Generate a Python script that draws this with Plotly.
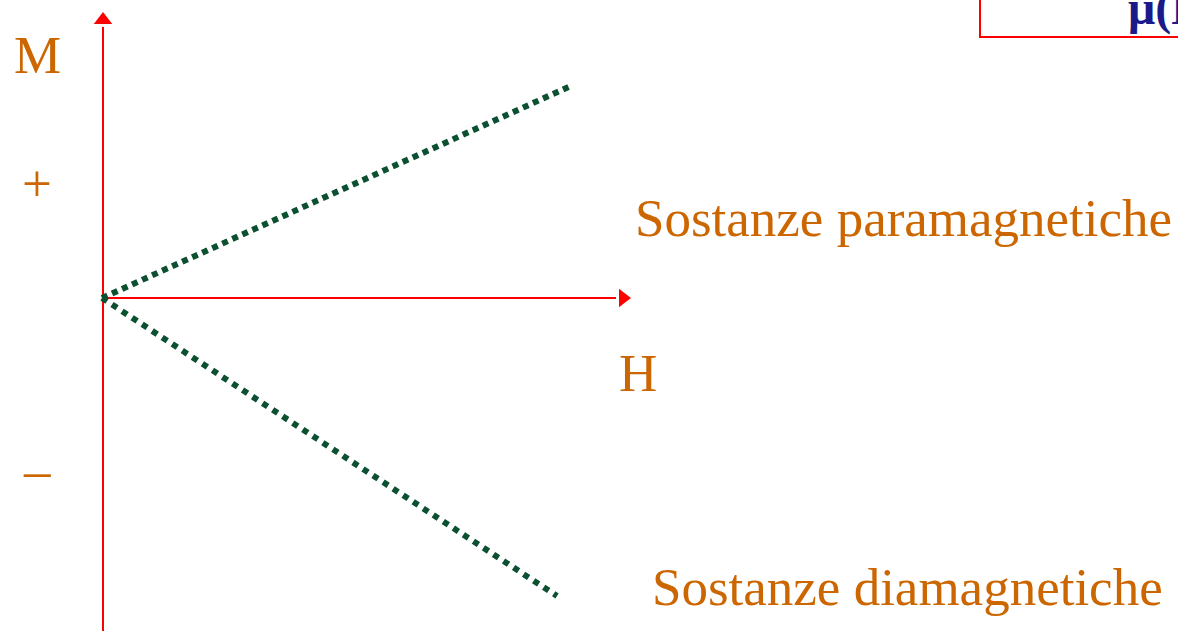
import plotly.graph_objects as go

# Data (H, M) in chart units; origin at the axes crossing
H_para = [0, 471]
M_para = [0, 213]
H_dia = [0, 455]
M_dia = [0, -298]

label_para = "Sostanze paramagnetiche"
label_dia = "Sostanze diamagnetiche"

ORANGE = "rgb(204,102,0)"
GREEN = "#0b5030"
RED = "#ff0000"
FONT = "Liberation Serif, Times New Roman, serif"

fig = go.Figure()

# axes lines (red)
fig.add_shape(type="line", x0=1, x1=1, y0=-340, y1=271, line=dict(color=RED, width=2), layer="below")
fig.add_shape(type="line", x0=0, x1=514, y0=0, y1=0, line=dict(color=RED, width=2), layer="below")
# arrowheads
fig.add_trace(go.Scatter(x=[1], y=[278], mode="markers",
                         marker=dict(symbol="triangle-up", size=16, color=RED, line=dict(width=0)),
                         hoverinfo="skip", showlegend=False))
fig.add_trace(go.Scatter(x=[521], y=[0], mode="markers",
                         marker=dict(symbol="triangle-right", size=16, color=RED, line=dict(width=0)),
                         hoverinfo="skip", showlegend=False))

# dotted series
fig.add_trace(go.Scatter(x=H_para, y=M_para, mode="lines",
                         line=dict(color=GREEN, width=6, dash="6px,5px"),
                         showlegend=False, hoverinfo="skip"))
fig.add_trace(go.Scatter(x=H_dia, y=M_dia, mode="lines",
                         line=dict(color=GREEN, width=6, dash="6px,6px"),
                         showlegend=False, hoverinfo="skip"))

# box at top right
fig.add_shape(type="rect", x0=878, x1=1100, y0=261, y1=320,
              line=dict(color=RED, width=2), fillcolor="rgba(0,0,0,0)")

def txt(x, y, s, size=53, color=ORANGE, xanchor="center", bold=False):
    fig.add_annotation(x=x, y=y, text=("<b>%s</b>" % s) if bold else s, showarrow=False,
                       xanchor=xanchor, yanchor="middle",
                       font=dict(family=FONT, size=size, color=color))

txt(-65, 243, "M")
txt(-65, 115, "+")
txt(-65, -172, "–")
txt(536, -75, "H")
txt(531, 80, label_para, xanchor="left")
txt(548, -289, label_dia, xanchor="left")
txt(1024, 290, "μ(H)", size=48, color="#1a1a8a", xanchor="left", bold=True)

fig.update_layout(
    width=1178, height=631,
    margin=dict(l=0, r=0, t=0, b=0),
    paper_bgcolor="white", plot_bgcolor="white",
    xaxis=dict(range=[-102, 1076], visible=False, fixedrange=True),
    yaxis=dict(range=[-333, 298], visible=False, fixedrange=True),
    showlegend=False,
)

fig.write_html("out.html", config={"displayModeBar": False},
               post_script="document.body.style.margin='0';document.body.style.overflow='hidden';")
